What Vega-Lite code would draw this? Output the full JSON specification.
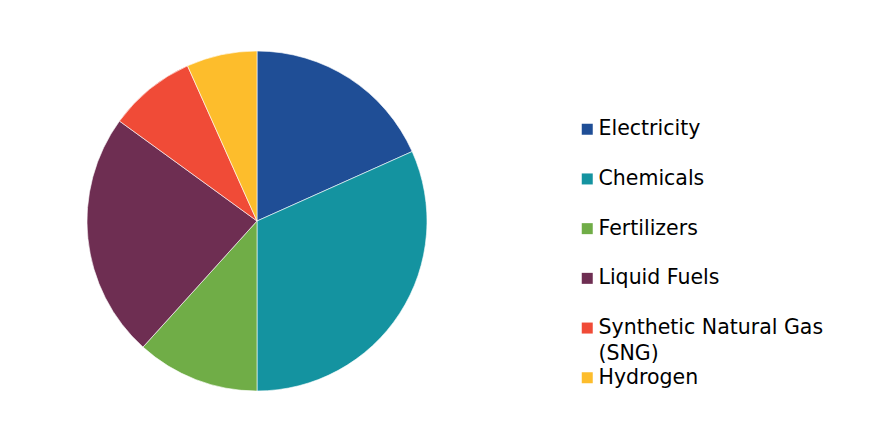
{
  "$schema": "https://vega.github.io/schema/vega-lite/v6.json",
  "width": 340,
  "height": 340,
  "autosize": "none",
  "padding": {"left": 87, "top": 51, "right": 445, "bottom": 30},
  "background": "white",
  "config": {
    "view": {"stroke": null},
    "font": "DejaVu Sans",
    "style": {"guide-label": {"lineHeight": 26}}
  },
  "data": {"values": [
    {"category": "Electricity", "share": 18.3, "rank": 1},
    {"category": "Chemicals", "share": 31.7, "rank": 2},
    {"category": "Fertilizers", "share": 11.7, "rank": 3},
    {"category": "Liquid Fuels", "share": 23.3, "rank": 4},
    {"category": "Synthetic Natural Gas (SNG)", "share": 8.3, "rank": 5},
    {"category": "Hydrogen", "share": 6.7, "rank": 6}
  ]},
  "mark": {"type": "arc", "outerRadius": 170, "stroke": "white", "strokeWidth": 0.6},
  "encoding": {
    "theta": {"field": "share", "type": "quantitative", "stack": true},
    "order": {"field": "rank", "type": "quantitative"},
    "color": {
      "field": "category",
      "type": "nominal",
      "scale": {
        "domain": ["Electricity", "Chemicals", "Fertilizers", "Liquid Fuels", "Synthetic Natural Gas (SNG)", "Hydrogen"],
        "range": ["#1F4E96", "#1493A0", "#70AD47", "#6E2E52", "#F04B37", "#FDBD2C"]
      },
      "legend": {
        "orient": "none",
        "legendX": 490,
        "legendY": 68,
        "title": null,
        "padding": 0,
        "symbolType": "square",
        "symbolSize": 121,
        "symbolStrokeWidth": 0,
        "labelFont": "DejaVu Sans",
        "labelFontSize": 20.5,
        "labelColor": "#000000",
        "labelOffset": 1,
        "labelLimit": 400,
        "labelBaseline": "middle",
        "gridAlign": "all",
        "rowPadding": 2.7,
        "labelExpr": "datum.label == 'Synthetic Natural Gas (SNG)' ? ['Synthetic Natural Gas', '(SNG)'] : datum.label",
        "encode": {"labels": {"dy": {"signal": "datum.label == 'Synthetic Natural Gas (SNG)' ? 13 : 0"}, "lineHeight": {"value": 26}}}
      }
    }
  }
}
